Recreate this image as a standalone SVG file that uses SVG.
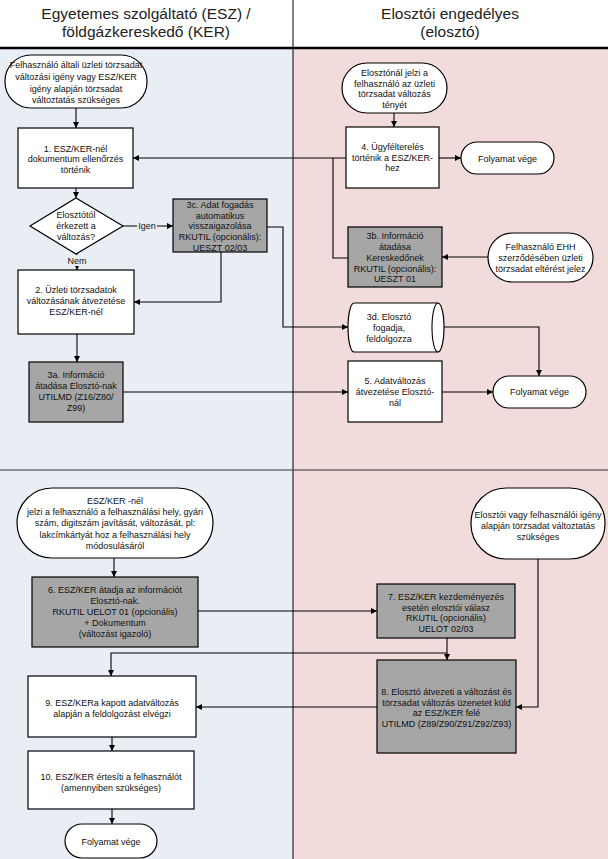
<svg xmlns="http://www.w3.org/2000/svg" width="608" height="859" viewBox="0 0 608 859">
<style>
.bg{stroke:none}
.n{fill:#fff;stroke:#000;stroke-width:1.2}
.g{fill:#a6a6a6;stroke:#000;stroke-width:1.2}
.t{font-family:"Liberation Sans",Arial,sans-serif;font-size:9px;fill:#111;text-anchor:middle}
.h{font-family:"Liberation Sans",Arial,sans-serif;font-size:15.5px;fill:#222;text-anchor:middle}
.c{fill:none;stroke:#000;stroke-width:1.1}
.a{marker-end:url(#ar)}
.lbl{font-family:"Liberation Sans",Arial,sans-serif;font-size:9px;fill:#111;text-anchor:middle}
</style>
<defs>
<marker id="ar" viewBox="0 0 10 10" refX="10" refY="5" markerWidth="6" markerHeight="6" markerUnits="userSpaceOnUse" orient="auto">
<path d="M0,0 L10,5 L0,10 Z" fill="#000"/>
</marker>
</defs>
<g id="background">
<rect x="0" y="0" width="608" height="859" fill="#fff"/>
<rect class="bg" x="0" y="49" width="293" height="810" fill="#e9eef5"/>
<rect class="bg" x="293" y="49" width="315" height="810" fill="#f2dcdb"/>
<line x1="293" y1="0" x2="293" y2="859" stroke="#000" stroke-width="1"/>
<line x1="0" y1="48" x2="608" y2="48" stroke="#000" stroke-width="2.5"/>
<line x1="0" y1="470" x2="608" y2="470" stroke="#333" stroke-width="1"/>
<text class="h" x="146" y="19">Egyetemes szolgáltató (ESZ) /</text>
<text class="h" x="146" y="37">földgázkereskedő (KER)</text>
<text class="h" x="450" y="19">Elosztói engedélyes</text>
<text class="h" x="450" y="37">(elosztó)</text>
</g>
<g id="connectors">
<path class="c a" d="M76,108 V128"/>
<path class="c a" d="M76,188 V198"/>
<path class="c a" d="M123,226 H173"/>
<path class="c a" d="M77,254 V270"/>
<path class="c a" d="M221,252 V302 H134"/>
<path class="c a" d="M267,227 H283 V327 H348"/>
<path class="c a" d="M77,334 V362"/>
<path class="c a" d="M123,392 H348"/>
<path class="c a" d="M442,392 H493"/>
<path class="c a" d="M444,327 H539 V376"/>
<path class="c a" d="M394,113 V127"/>
<path class="c a" d="M346,158 H133"/>
<path class="c" d="M348,258 H333 V158"/>
<path class="c a" d="M439,158 H461"/>
<path class="c a" d="M488,257 H442"/>
<path class="c a" d="M114,558 V577"/>
<path class="c a" d="M198,611 H377"/>
<path class="c a" d="M447,638 V660"/>
<path class="c a" d="M447,653 H111 V676"/>
<path class="c a" d="M538,559 V707 H516"/>
<path class="c a" d="M377,707 H196"/>
<path class="c a" d="M112,737 V751"/>
<path class="c a" d="M112,809 V824"/>
<rect x="137" y="220" width="20" height="12" fill="#e9eef5"/>
<text class="lbl" x="147" y="229">Igen</text>
<rect x="66" y="255" width="22" height="11" fill="#e9eef5"/>
<text class="lbl" x="77" y="264">Nem</text>
</g>
<g id="start1">
<rect class="n" x="5" y="55" width="142" height="53" rx="26" ry="26"/>
<text class="t"><tspan x="76" y="68">Felhasználó általi üzleti törzsadat</tspan><tspan x="76" y="80">változási igény vagy ESZ/KER</tspan><tspan x="76" y="91.5">igény alapján törzsadat</tspan><tspan x="76" y="102.5">változtatás szükséges</tspan></text>
</g>
<g id="step1">
<rect class="n" x="18" y="128" width="115" height="60"/>
<text class="t"><tspan x="75.5" y="151.5">1. ESZ/KER-nél</tspan><tspan x="75.5" y="162">dokumentum ellenőrzés</tspan><tspan x="75.5" y="172.5">történik</tspan></text>
</g>
<g id="decision">
<polygon class="n" points="76,198 123,226 76,254 30,226"/>
<text class="t"><tspan x="76" y="218">Elosztótól</tspan><tspan x="76" y="229">érkezett a</tspan><tspan x="76" y="240">változás?</tspan></text>
</g>
<g id="step3c">
<rect class="g" x="173" y="199" width="94" height="53"/>
<text class="t"><tspan x="220" y="208">3c. Adat fogadás</tspan><tspan x="220" y="218.5">automatikus</tspan><tspan x="220" y="229">visszaigazolása</tspan><tspan x="220" y="240">RKUTIL (opcionális):</tspan><tspan x="220" y="250.5">UESZT 02/03</tspan></text>
</g>
<g id="step2">
<rect class="n" x="18" y="270" width="116" height="64"/>
<text class="t"><tspan x="76" y="293">2. Üzleti törzsadatok</tspan><tspan x="76" y="304">változásának átvezetése</tspan><tspan x="76" y="315">ESZ/KER-nél</tspan></text>
</g>
<g id="step3a">
<rect class="g" x="29" y="362" width="94" height="60"/>
<text class="t"><tspan x="76" y="378">3a. Információ</tspan><tspan x="76" y="389">átadása Elosztó-nak</tspan><tspan x="76" y="400">UTILMD (Z16/Z80/</tspan><tspan x="76" y="411">Z99)</tspan></text>
</g>
<g id="startR1">
<rect class="n" x="342" y="63" width="105" height="50" rx="25" ry="25"/>
<text class="t"><tspan x="394.5" y="76">Elosztónál jelzi a</tspan><tspan x="394.5" y="86.5">felhasználó az üzleti</tspan><tspan x="394.5" y="97">törzsadat változás</tspan><tspan x="394.5" y="108">tényét</tspan></text>
</g>
<g id="step4">
<rect class="n" x="346" y="127" width="93" height="61"/>
<text class="t"><tspan x="392.5" y="150">4. Ügyfélterelés</tspan><tspan x="392.5" y="160.5">történik a ESZ/KER-</tspan><tspan x="392.5" y="171">hez</tspan></text>
</g>
<g id="end1">
<rect class="n" x="461" y="142" width="93" height="32" rx="16" ry="16"/>
<text class="t" x="507.5" y="162">Folyamat vége</text>
</g>
<g id="step3b">
<rect class="g" x="348" y="227" width="94" height="60"/>
<text class="t"><tspan x="395" y="239">3b. Információ</tspan><tspan x="395" y="250">átadása</tspan><tspan x="395" y="260.5">Kereskedőnek</tspan><tspan x="395" y="271.5">RKUTIL (opcionális):</tspan><tspan x="395" y="282">UESZT 01</tspan></text>
</g>
<g id="startEHH">
<rect class="n" x="488" y="233" width="105" height="49" rx="24.5" ry="24.5"/>
<text class="t"><tspan x="540.5" y="250">Felhasználó EHH</tspan><tspan x="540.5" y="261">szerződésében üzleti</tspan><tspan x="540.5" y="272">törzsadat eltérést jelez</tspan></text>
</g>
<g id="step3d">
<path class="n" d="M354,303 H438 A6,24.5 0 0 1 438,352 H354 A6,24.5 0 0 1 354,303 Z"/>
<path class="c" d="M438,303 A6,24.5 0 0 0 438,352"/>
<text class="t"><tspan x="389" y="320">3d. Elosztó</tspan><tspan x="389" y="331">fogadja,</tspan><tspan x="389" y="342">feldolgozza</tspan></text>
</g>
<g id="step5">
<rect class="n" x="348" y="361" width="94" height="61"/>
<text class="t"><tspan x="395" y="384">5. Adatváltozás</tspan><tspan x="395" y="395">átvezetése Elosztó-</tspan><tspan x="395" y="405.5">nál</tspan></text>
</g>
<g id="end2">
<rect class="n" x="493" y="376" width="93" height="32" rx="16" ry="16"/>
<text class="t" x="539.5" y="395">Folyamat vége</text>
</g>
<g id="start2">
<rect class="n" x="17" y="488" width="196" height="70" rx="35" ry="35"/>
<text class="t"><tspan x="115" y="504">ESZ/KER -nél</tspan><tspan x="115" y="515">jelzi a felhasználó a felhasználási hely, gyári</tspan><tspan x="115" y="526">szám, digitszám javítását, változását, pl:</tspan><tspan x="115" y="538">lakcímkártyát hoz a felhasználási hely</tspan><tspan x="115" y="548.5">módosulásáról</tspan></text>
</g>
<g id="step6">
<rect class="g" x="32" y="577" width="166" height="70"/>
<text class="t"><tspan x="115" y="593">6. ESZ/KER átadja az információt</tspan><tspan x="115" y="604">Elosztó-nak.</tspan><tspan x="115" y="615">RKUTIL UELOT 01 (opcionális)</tspan><tspan x="115" y="626">+ Dokumentum</tspan><tspan x="115" y="637">(változást igazoló)</tspan></text>
</g>
<g id="startR2">
<rect class="n" x="471" y="488" width="134" height="71" rx="35" ry="35"/>
<text class="t"><tspan x="538" y="518">Elosztói vagy felhasználói igény</tspan><tspan x="538" y="529">alapján törzsadat változtatás</tspan><tspan x="538" y="540">szükséges</tspan></text>
</g>
<g id="step7">
<rect class="g" x="377" y="584" width="138" height="54"/>
<text class="t"><tspan x="446" y="600">7. ESZ/KER kezdeményezés</tspan><tspan x="446" y="611">esetén elosztói válasz</tspan><tspan x="446" y="621">RKUTIL (opcionális)</tspan><tspan x="446" y="631.5">UELOT 02/03</tspan></text>
</g>
<g id="step8">
<rect class="g" x="377" y="660" width="139" height="93"/>
<text class="t"><tspan x="446.5" y="695">8. Elosztó átvezeti a változást és</tspan><tspan x="446.5" y="705.5">törzsadat változás üzenetet küld</tspan><tspan x="446.5" y="716">az ESZ/KER felé</tspan><tspan x="446.5" y="727">UTILMD (Z89/Z90/Z91/Z92/Z93)</tspan></text>
</g>
<g id="step9">
<rect class="n" x="28" y="676" width="168" height="61"/>
<text class="t"><tspan x="112" y="706">9. ESZ/KERa kapott adatváltozás</tspan><tspan x="112" y="717">alapján a feldolgozást elvégzi</tspan></text>
</g>
<g id="step10">
<rect class="n" x="28" y="751" width="166" height="58"/>
<text class="t"><tspan x="111" y="780">10. ESZ/KER értesíti a felhasználót</tspan><tspan x="111" y="790.5">(amennyiben szükséges)</tspan></text>
</g>
<g id="end3">
<rect class="n" x="65" y="824" width="92" height="34" rx="17" ry="17"/>
<text class="t" x="111" y="844.5">Folyamat vége</text>
</g>
</svg>
